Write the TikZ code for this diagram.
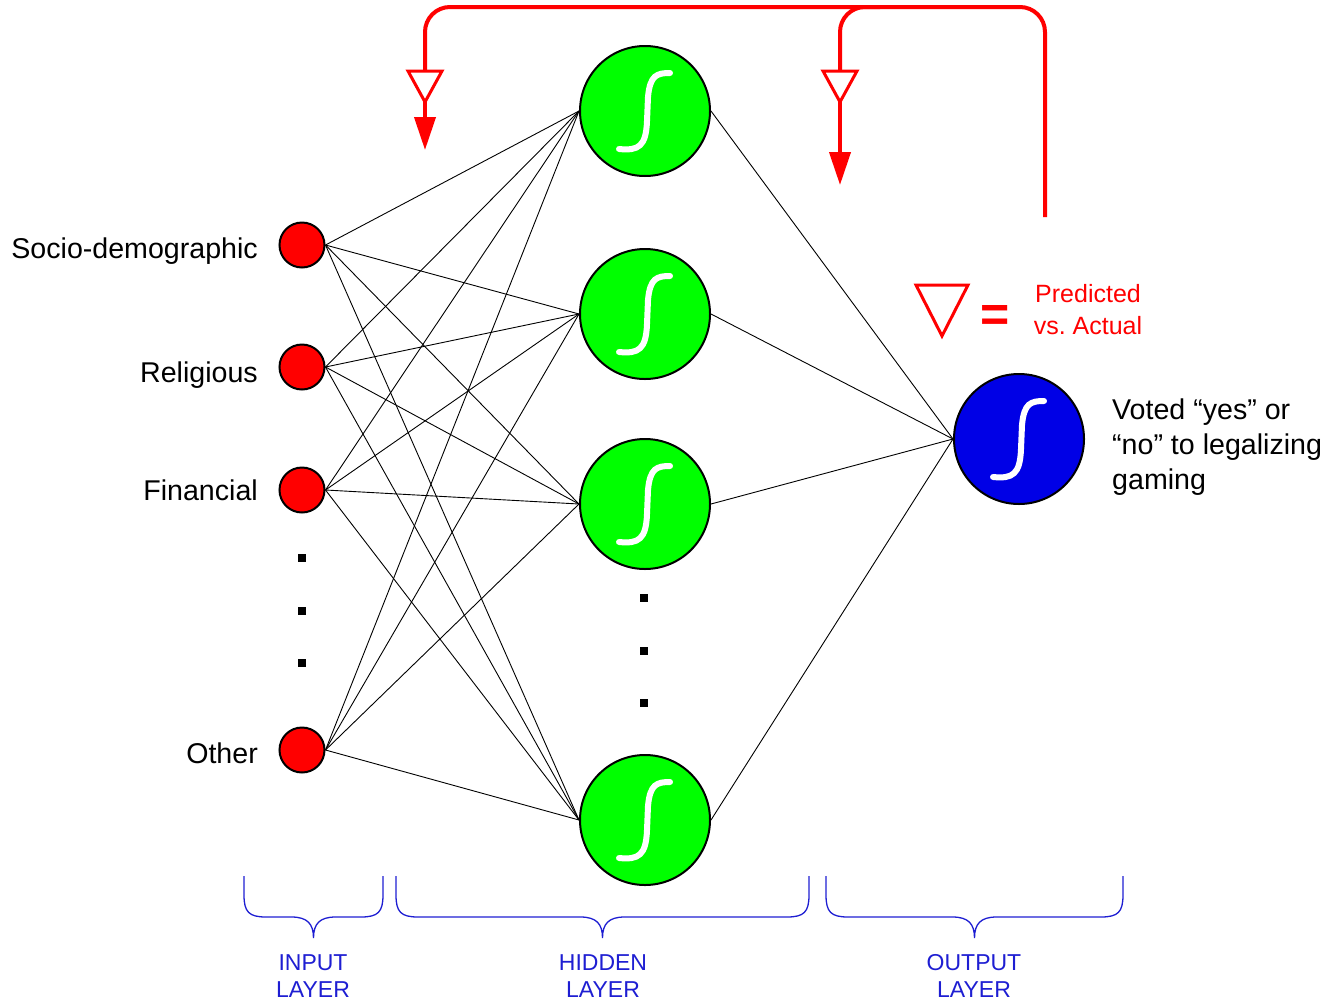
\documentclass[tikz,border=0pt]{standalone}
\usepackage{fontspec}
\setmainfont{Liberation Sans}
\usetikzlibrary{arrows.meta,calc}
\definecolor{ngreen}{RGB}{0,255,0}
\definecolor{nblue}{RGB}{0,0,230}
\definecolor{lblue}{RGB}{30,30,210}
\newcommand\layerbrace[2]{%
 \pgfmathsetmacro\brcx{(#1+#2)/2}%
 \draw[bracestyle] (#1,876) -- (#1,895) .. controls (#1,912) and (#1+5,917) .. (#1+22,917) -- (\brcx-22,917) .. controls (\brcx-6,917) and (\brcx,924) .. (\brcx,938) .. controls (\brcx,924) and (\brcx+6,917) .. (\brcx+22,917) -- (#2-22,917) .. controls (#2-5,917) and (#2,912) .. (#2,895) -- (#2,876);}
\begin{document}
\begin{tikzpicture}[x=1pt,y=-1pt,
  inp/.style={circle,draw=black,line width=2pt,fill=red,minimum size=45pt,inner sep=0pt},
  hid/.style={circle,draw=black,line width=2pt,fill=ngreen,minimum size=130pt,inner sep=0pt},
  outn/.style={circle,draw=black,line width=2pt,fill=nblue,minimum size=130pt,inner sep=0pt},
  link/.style={black,line width=0.9pt},
  sig/.style={white,line width=6pt,line cap=round},
  fb/.style={red,line width=4pt,rounded corners=25pt},
  fbarrow/.style={red,line width=4pt,-{Triangle[length=33pt,width=21pt]}},
  trimark/.style={draw=red,line width=3pt,fill=white,line join=miter},
  lab/.style={inner sep=0pt,font=\fontsize{28.6}{35}\selectfont},
  layerlab/.style={inner sep=0pt,text=lblue,align=center,font=\fontsize{23}{27}\selectfont},
  bracestyle/.style={lblue,line width=1.3pt},
  dotsq/.style={rectangle,fill=black,minimum size=8pt,inner sep=0pt}]
\useasboundingbox (0,0) rectangle (1328,1002);

% input nodes
\node[inp] (i1) at (302,245) {};
\node[inp] (i2) at (302,367) {};
\node[inp] (i3) at (302,490) {};
\node[inp] (i4) at (302,750) {};
% hidden nodes
\node[hid] (h1) at (645,111) {};
\node[hid] (h2) at (645,314) {};
\node[hid] (h3) at (645,504) {};
\node[hid] (h4) at (645,820) {};
% output
\node[outn] (o) at (1019,439) {};

% connections
\foreach \i in {i1,i2,i3,i4}
  \foreach \h in {h1,h2,h3,h4}
    \draw[link] (\i.east) -- (\h.west);
\foreach \h in {h1,h2,h3,h4}
  \draw[link] (\h.east) -- (o.west);

% sigmoid symbols
\foreach \n in {h1,h2,h3,h4,o}
  \draw[sig,shift={(\n)}] (-26,38) .. controls (-6,40) and (1,35) .. (2,10) -- (3,-14) .. controls (5,-36) and (12,-38) .. (25,-38);

% dots
\node[dotsq] (di1) at (302,558) {};
\node[dotsq] (di2) at (302,611) {};
\node[dotsq] (di3) at (302,663) {};
\node[dotsq] (dh1) at (644,598) {};
\node[dotsq] (dh2) at (644,651) {};
\node[dotsq] (dh3) at (644,703) {};

% input labels
\node[lab,anchor=base east] (l1) at (258,258) {Socio-demographic};
\node[lab,anchor=base east] (l2) at (258,382) {Religious};
\node[lab,anchor=base east] (l3) at (258,500) {Financial};
\node[lab,anchor=base east] (l4) at (258,763) {Other};

% output label
\node[lab,align=left,anchor=north west] (lo) at (1112,399) {Voted “yes” or\\“no” to legalizing\\gaming};

% feedback
\coordinate (fbs) at (1045,217);
\coordinate (fbR) at (1045,7);
\coordinate (fbL) at (425,7);
\coordinate (fbM) at (880,7);
\coordinate (fbMc) at (840,7);
\coordinate (taTop) at (425,71);
\coordinate (taTip) at (425,102);
\coordinate (tipA) at (425,150);
\coordinate (tbTop) at (840,71);
\coordinate (tbTip) at (840,102);
\coordinate (tipB) at (840,185);
\draw[fb] (fbs) -- (fbR) -- (fbL) -- (taTop);
\draw[fb] (fbM) -- (fbMc) -- (tbTop);
\draw[trimark] (408,71) -- (442,71) -- (taTip) -- cycle;
\draw[trimark] (823,71) -- (857,71) -- (tbTip) -- cycle;
\draw[fbarrow] (taTip) -- (tipA);
\draw[fbarrow] (tbTip) -- (tipB);

% legend
\draw[trimark] (916,285) -- (968,285) -- (942,336) -- cycle;
\node[inner sep=0pt,text=red,font=\fontsize{50}{50}\selectfont\bfseries,anchor=base] (eq) at (995,331) {=};
\node[inner sep=0pt,text=red,align=center,anchor=north,font=\fontsize{25}{32}\selectfont] (leg) at (1088,284) {Predicted\\vs.\ Actual};

% braces
\layerbrace{244}{383}
\layerbrace{396}{809}
\layerbrace{826}{1123}
\node[layerlab,anchor=north] (li) at (313,954.5) {INPUT\\LAYER};
\node[layerlab,anchor=north] (lh) at (603,954.5) {HIDDEN\\LAYER};
\node[layerlab,anchor=north] (lout) at (974,954.5) {OUTPUT\\LAYER};
\end{tikzpicture}
\end{document}
